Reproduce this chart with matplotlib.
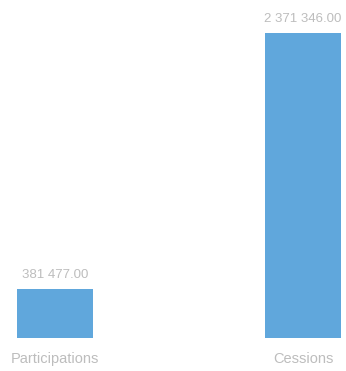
import matplotlib
matplotlib.use("Agg")
import matplotlib.pyplot as plt

categories = ["Participations", "Cessions"]
values = [381477.00, 2371346.00]
value_labels = ["381 477.00", "2 371 346.00"]

W, H = 346, 371
fig = plt.figure(figsize=(W / 100, H / 100), dpi=100)
fig.patch.set_facecolor("white")

bottom_px, height_px = 33, 305
ax = fig.add_axes([0, bottom_px / H, 1, height_px / H])
ax.set_facecolor("none")
x = [0, 1]
ax.bar(x, values, width=0.305, color="#60a7dc", edgecolor="none")
ax.set_xlim(-55 / 248, (W - 55) / 248)
ax.set_ylim(0, max(values))
for s in ax.spines.values():
    s.set_visible(False)
ax.set_xticks([])
ax.set_yticks([])

txt_color = "#bdbdbd"
for xi, v, lab in zip(x, values, value_labels):
    ax.annotate(lab, (xi, v), xytext=(0, 6), textcoords="offset points",
                ha="center", va="bottom", fontsize=9.5, color=txt_color,
                family="Liberation Sans", annotation_clip=False)
for xi, c in zip(x, categories):
    ax.annotate(c, (xi, 0), xytext=(0, -10), textcoords="offset points",
                ha="center", va="top", fontsize=10.5, color=txt_color,
                family="Liberation Sans", annotation_clip=False)

fig.savefig("out.png", dpi=100, facecolor="white")
